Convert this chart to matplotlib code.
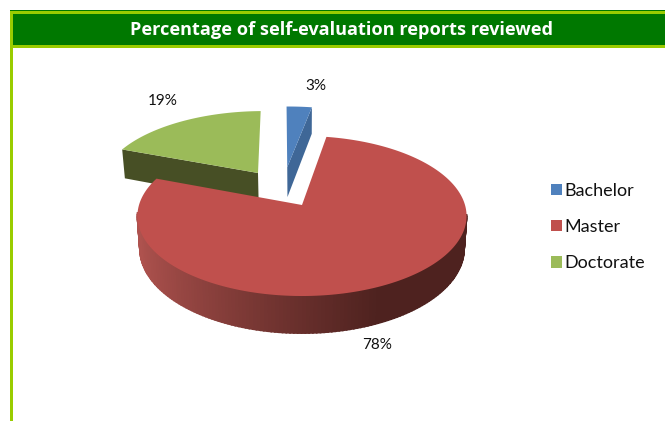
#!/usr/bin/env python3
"""Perspective 3D pie: percentage of self-evaluation reports reviewed."""

import numpy as np
import matplotlib
matplotlib.use('Agg')
import matplotlib.pyplot as plt
from matplotlib.patches import Patch, Rectangle

# Data
categories = ['Bachelor', 'Master', 'Doctorate']
values = [3, 78, 19]
title = 'Percentage of self-evaluation reports reviewed'

# Styles
top_colors = ['#4F81BD', '#C0504D', '#9BBB59']
cut_colors = ['#3F6797', '#5A2A26', '#474F25']
explode = [(-0.097, 0.516), (0.0, 0.0), (-0.286, 0.432)]
label_pos = [(316, 86), (377, 345), (163, 101)]

# Projection of the pie plane to pixels
APEX_X, APEX_Y = 302, 205
RX, RY, K = 163, 78.5, 0.1375
DEPTH = 32
START = 91.0


def project(u, v, z=0.0):
    d = 1 + K * v
    x = APEX_X + RX * u / d * (1 - 0.015 * z)
    y = APEX_Y - RY * v / d + DEPTH * z / d
    return x, y


def wedge(a0, a1, off, z=0.0, n=240):
    # a0 > a1, clockwise; returns arc points
    t = np.radians(np.linspace(a0, a1, n))
    return project(off[0] + np.cos(t), off[1] + np.sin(t), z)


fig = plt.figure(figsize=(6.65, 4.21), dpi=100)
ax = fig.add_axes([0, 0, 1, 1])
ax.set_xlim(0, 665)
ax.set_ylim(421, 0)
ax.axis('off')

# Frame and title band
ax.add_patch(Rectangle((10, 10), 655, 38, facecolor='#007800', edgecolor='none', zorder=1))
ax.add_patch(Rectangle((11, 11), 654, 3, facecolor='#99CC00', edgecolor='none', zorder=2))
ax.add_patch(Rectangle((11, 45), 654, 3, facecolor='#99CC00', edgecolor='none', zorder=2))
ax.add_patch(Rectangle((10, 11), 3, 410, facecolor='#99CC00', edgecolor='none', zorder=2))
ax.text(341, 30, title, color='white', fontsize=13.1, fontweight='bold',
        family='Open Sans', ha='center', va='center', zorder=3)

# Slice angles from the values
sweep = np.array(values) / sum(values) * 360.0
ends = START - np.cumsum(sweep)
starts = ends + sweep

# Draw order: back slices first, Master last
for order, i in enumerate([2, 0, 1]):
    a0, a1, off = starts[i], ends[i], explode[i]
    ax0, ay0 = project(off[0], off[1])
    bx0, by0 = project(off[0], off[1], 1)
    tx, ty = wedge(a0, a1, off)
    bx, by = wedge(a0, a1, off, 1)
    z = 5 + order
    if categories[i] == 'Master':
        # outer wall with a left-to-right gradient
        dark = np.array([0x4E, 0x22, 0x1F]) / 255
        light = np.array([0xAE, 0x52, 0x4E]) / 255
        angles = np.linspace(a0, a1, len(tx))
        for j in range(len(tx) - 1):
            if np.sin(np.radians(angles[j])) < -0.1:
                f = np.clip((tx[j] - 140) / 240, 0, 1) ** 0.8
                c = light + (dark - light) * f
                ax.fill([tx[j], tx[j + 1], bx[j + 1], bx[j]],
                        [ty[j], ty[j + 1], by[j + 1], by[j]],
                        facecolor=c, edgecolor=c, lw=1.2, zorder=z)
    else:
        # cut face seen from the front
        k = 0 if categories[i] == 'Doctorate' else -1
        ax.fill([ax0, tx[k], bx[k], bx0], [ay0, ty[k], by[k], by0],
                color=cut_colors[i], lw=0, zorder=z)
    ax.fill(np.r_[ax0, tx], np.r_[ay0, ty], color=top_colors[i], lw=0, zorder=z + 0.5)
    ax.text(label_pos[i][0], label_pos[i][1], f'{values[i]}%', fontsize=11,
            family='Lato', color='#111111', ha='center', va='center', zorder=20)

handles = [Patch(facecolor=c, edgecolor='none') for c in top_colors]
ax.legend(handles, categories, loc='center left', bbox_to_anchor=(535 / 665, 1 - 227 / 421),
          frameon=False, prop={'family': 'Lato', 'size': 13}, handlelength=0.62,
          handleheight=0.62, handletextpad=0.12, labelspacing=1.12, labelcolor='#111111')

fig.savefig('out.png', dpi=100)
print('Saved: out.png')
